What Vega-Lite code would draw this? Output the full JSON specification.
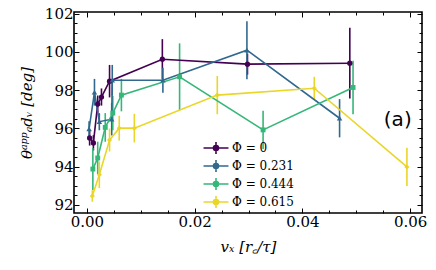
{
  "$schema": "https://vega.github.io/schema/vega-lite/v6.json",
  "width": 348,
  "height": 201,
  "autosize": {"type": "none"},
  "padding": {"left": 74, "top": 12, "right": 14, "bottom": 57},
  "background": "white",
  "config": {
    "view": {"stroke": "black", "strokeWidth": 1.6},
    "axis": {
      "domain": false,
      "grid": false,
      "labelFont": "DejaVu Serif",
      "labelFontSize": 15,
      "labelColor": "black",
      "tickColor": "black",
      "tickWidth": 1,
      "titleFont": "DejaVu Serif",
      "titleFontStyle": "italic",
      "titleFontWeight": "normal",
      "titleFontSize": 15,
      "titleColor": "black"
    }
  },
  "data": {
    "values": [
      {"s": "Φ = 0", "x": 0.0005, "y": 95.50, "lo": 95.10, "hi": 95.90},
      {"s": "Φ = 0", "x": 0.0012, "y": 95.24, "lo": 94.84, "hi": 95.64},
      {"s": "Φ = 0", "x": 0.0020, "y": 97.27, "lo": 96.82, "hi": 97.72},
      {"s": "Φ = 0", "x": 0.0027, "y": 97.64, "lo": 97.19, "hi": 98.09},
      {"s": "Φ = 0", "x": 0.0042, "y": 98.47, "lo": 97.62, "hi": 99.32},
      {"s": "Φ = 0", "x": 0.0140, "y": 99.62, "lo": 98.57, "hi": 100.67},
      {"s": "Φ = 0", "x": 0.0298, "y": 99.36, "lo": 98.81, "hi": 99.91},
      {"s": "Φ = 0", "x": 0.0488, "y": 99.41, "lo": 97.56, "hi": 101.26},
      {"s": "Φ = 0.231", "x": 0.0004, "y": 95.97, "lo": 95.57, "hi": 96.37},
      {"s": "Φ = 0.231", "x": 0.0014, "y": 97.89, "lo": 97.19, "hi": 98.59},
      {"s": "Φ = 0.231", "x": 0.0023, "y": 96.35, "lo": 95.90, "hi": 96.80},
      {"s": "Φ = 0.231", "x": 0.0046, "y": 96.48, "lo": 95.63, "hi": 97.33},
      {"s": "Φ = 0.231", "x": 0.0047, "y": 98.52, "lo": 97.72, "hi": 99.32},
      {"s": "Φ = 0.231", "x": 0.0141, "y": 98.52, "lo": 97.87, "hi": 99.17},
      {"s": "Φ = 0.231", "x": 0.0297, "y": 100.09, "lo": 98.57, "hi": 101.61},
      {"s": "Φ = 0.231", "x": 0.0469, "y": 96.53, "lo": 95.53, "hi": 97.53},
      {"s": "Φ = 0.444", "x": 0.0011, "y": 93.87, "lo": 92.77, "hi": 94.97},
      {"s": "Φ = 0.444", "x": 0.0020, "y": 94.45, "lo": 93.60, "hi": 95.30},
      {"s": "Φ = 0.444", "x": 0.0034, "y": 96.05, "lo": 95.30, "hi": 96.80},
      {"s": "Φ = 0.444", "x": 0.0048, "y": 96.80, "lo": 95.90, "hi": 97.70},
      {"s": "Φ = 0.444", "x": 0.0064, "y": 97.74, "lo": 96.89, "hi": 98.59},
      {"s": "Φ = 0.444", "x": 0.0172, "y": 98.70, "lo": 96.95, "hi": 100.45},
      {"s": "Φ = 0.444", "x": 0.0327, "y": 95.92, "lo": 94.92, "hi": 96.92},
      {"s": "Φ = 0.444", "x": 0.0494, "y": 98.14, "lo": 96.74, "hi": 99.54},
      {"s": "Φ = 0.615", "x": 0.0010, "y": 92.46, "lo": 92.16, "hi": 92.76},
      {"s": "Φ = 0.615", "x": 0.0023, "y": 93.57, "lo": 92.87, "hi": 94.27},
      {"s": "Φ = 0.615", "x": 0.0042, "y": 95.39, "lo": 94.79, "hi": 95.99},
      {"s": "Φ = 0.615", "x": 0.0060, "y": 96.01, "lo": 95.36, "hi": 96.66},
      {"s": "Φ = 0.615", "x": 0.0088, "y": 96.01, "lo": 95.26, "hi": 96.76},
      {"s": "Φ = 0.615", "x": 0.0242, "y": 97.74, "lo": 96.74, "hi": 98.74},
      {"s": "Φ = 0.615", "x": 0.0422, "y": 98.10, "lo": 97.50, "hi": 98.70},
      {"s": "Φ = 0.615", "x": 0.0594, "y": 93.98, "lo": 92.98, "hi": 94.98}
    ]
  },
  "resolve": {"axis": {"x": "independent", "y": "independent"}},
  "layer": [
    {
      "mark": {"type": "rule", "strokeWidth": 1.6},
      "encoding": {
        "x": {
          "field": "x", "type": "quantitative",
          "scale": {"domain": [-0.0024, 0.0622], "nice": false, "zero": false},
          "axis": {
            "orient": "bottom",
            "title": "vₓ [r꜀/τ]",
            "values": [0, 0.005, 0.01, 0.015, 0.02, 0.025, 0.03, 0.035, 0.04, 0.045, 0.05, 0.055, 0.06],
            "labelExpr": "round(datum.value*1000) % 20 == 0 ? format(datum.value, '.2f') : ''",
            "tickSize": {"condition": {"test": "round(datum.value*1000) % 20 == 0", "value": -5}, "value": -3},
            "labelPadding": 6,
            "titlePadding": 10
          }
        },
        "y": {
          "field": "lo", "type": "quantitative",
          "scale": {"domain": [91.57, 102.09], "nice": false, "zero": false},
          "axis": {
            "orient": "left",
            "title": "θᵃᵖᵖₐdᵥ [deg]",
            "values": [92, 92.5, 93, 93.5, 94, 94.5, 95, 95.5, 96, 96.5, 97, 97.5, 98, 98.5, 99, 99.5, 100, 100.5, 101, 101.5, 102],
            "labelExpr": "round(datum.value*10) % 20 == 0 ? format(datum.value, 'd') : ''",
            "tickSize": {"condition": {"test": "round(datum.value*10) % 20 == 0", "value": -5}, "value": -3},
            "labelPadding": 6,
            "titlePadding": 10
          }
        },
        "y2": {"field": "hi"},
        "color": {
          "field": "s", "type": "nominal",
          "scale": {"domain": ["Φ = 0", "Φ = 0.231", "Φ = 0.444", "Φ = 0.615"], "range": ["#440154", "#31688e", "#35b779", "#ead628"]},
          "legend": {
            "title": null,
            "orient": "none",
            "legendX": 135,
            "legendY": 129,
            "symbolType": "M-2.08,0H2.08M0,-1V1M-0.42,0a0.42,0.42 0 1,0 0.84,0a0.42,0.42 0 1,0 -0.84,0",
            "symbolSize": 144,
            "symbolStrokeWidth": 1.6,
            "labelFont": "DejaVu Serif",
            "labelFontSize": 12,
            "labelColor": "black",
            "labelOffset": 9,
            "rowPadding": -2,
            "encode": {
              "symbols": {
                "update": {
                  "stroke": {"scale": "color", "field": "value"},
                  "fill": {"scale": "color", "field": "value"},
                  "opacity": {"value": 1}
                }
              }
            }
          }
        }
      }
    },
    {
      "mark": {"type": "line", "strokeWidth": 1.6},
      "encoding": {
        "x": {"field": "x", "type": "quantitative", "axis": null},
        "y": {"field": "y", "type": "quantitative", "axis": null},
        "color": {"field": "s", "type": "nominal"}
      }
    },
    {
      "transform": [{"filter": "datum.s == 'Φ = 0'"}],
      "mark": {"type": "point", "filled": true, "size": 28, "opacity": 1, "shape": "circle"},
      "encoding": {
        "x": {"field": "x", "type": "quantitative", "axis": null},
        "y": {"field": "y", "type": "quantitative", "axis": null},
        "color": {"field": "s", "type": "nominal"}
      }
    },
    {
      "transform": [{"filter": "datum.s == 'Φ = 0.231'"}],
      "mark": {"type": "point", "filled": true, "size": 30, "opacity": 1, "shape": "triangle-up"},
      "encoding": {
        "x": {"field": "x", "type": "quantitative", "axis": null},
        "y": {"field": "y", "type": "quantitative", "axis": null},
        "color": {"field": "s", "type": "nominal"}
      }
    },
    {
      "transform": [{"filter": "datum.s == 'Φ = 0.444'"}],
      "mark": {"type": "point", "filled": true, "size": 24, "opacity": 1, "shape": "square"},
      "encoding": {
        "x": {"field": "x", "type": "quantitative", "axis": null},
        "y": {"field": "y", "type": "quantitative", "axis": null},
        "color": {"field": "s", "type": "nominal"}
      }
    },
    {
      "transform": [{"filter": "datum.s == 'Φ = 0.615'"}],
      "mark": {"type": "point", "filled": true, "size": 26, "opacity": 1, "shape": "diamond"},
      "encoding": {
        "x": {"field": "x", "type": "quantitative", "axis": null},
        "y": {"field": "y", "type": "quantitative", "axis": null},
        "color": {"field": "s", "type": "nominal"}
      }
    },
    {
      "data": {"values": [{"lab": "(a)", "x": 0.0577, "y": 96.44}]},
      "mark": {"type": "text", "font": "DejaVu Sans", "fontSize": 20, "color": "black", "align": "center", "baseline": "middle"},
      "encoding": {
        "x": {"field": "x", "type": "quantitative", "axis": null},
        "y": {"field": "y", "type": "quantitative", "axis": null},
        "text": {"field": "lab"}
      }
    },
    {
      "mark": {"type": "point", "opacity": 0},
      "encoding": {
        "x": {
          "field": "x", "type": "quantitative",
          "axis": {
            "orient": "top", "title": null, "labels": false,
            "values": [0, 0.005, 0.01, 0.015, 0.02, 0.025, 0.03, 0.035, 0.04, 0.045, 0.05, 0.055, 0.06],
            "tickSize": {"condition": {"test": "round(datum.value*1000) % 20 == 0", "value": -5}, "value": -3}
          }
        },
        "y": {
          "field": "y", "type": "quantitative",
          "axis": {
            "orient": "right", "title": null, "labels": false,
            "values": [92, 92.5, 93, 93.5, 94, 94.5, 95, 95.5, 96, 96.5, 97, 97.5, 98, 98.5, 99, 99.5, 100, 100.5, 101, 101.5, 102],
            "tickSize": {"condition": {"test": "round(datum.value*10) % 20 == 0", "value": -5}, "value": -3}
          }
        }
      }
    }
  ]
}
